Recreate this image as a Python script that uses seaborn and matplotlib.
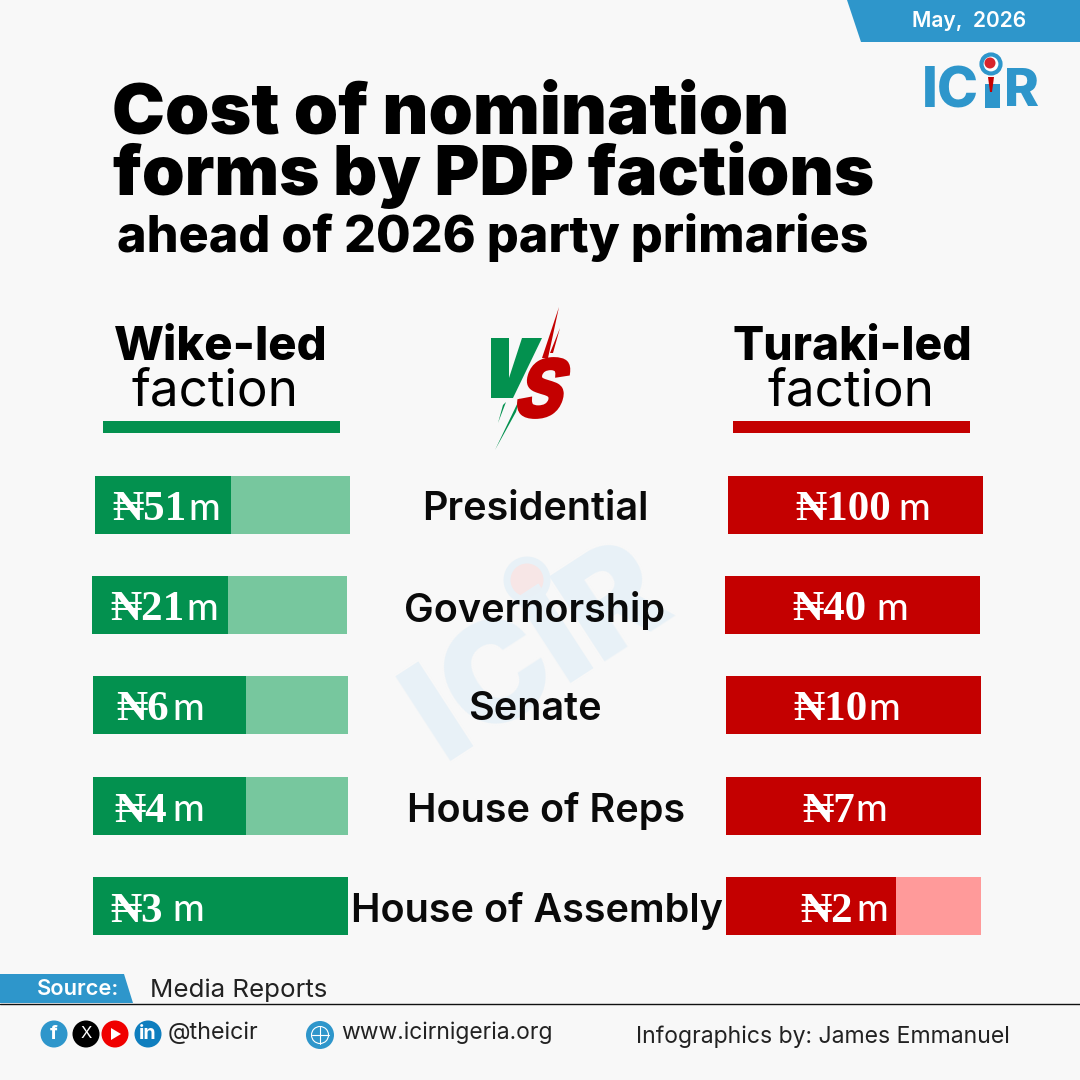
import matplotlib
matplotlib.use("Agg")
import matplotlib.pyplot as plt
import seaborn as sns
from matplotlib.font_manager import FontProperties
from matplotlib.patches import Circle, PathPatch, Polygon, Rectangle
from matplotlib.textpath import TextPath
from matplotlib.transforms import Affine2D

# values in million naira
offices = ["Presidential", "Governorship", "Senate", "House of Reps", "House of Assembly"]
wike_cost = [51, 21, 6, 4, 3]
turaki_cost = [100, 40, 10, 7, 2]
# filled part of each bar
wike_fill = [0.533, 0.533, 0.60, 0.60, 1.0]
turaki_fill = [1.0, 1.0, 1.0, 1.0, 0.667]

BG = "#F8F8F8"
BLUE = "#2E96CB"
GREEN = "#03914F"
GREEN_LIGHT = "#77C79E"
RED = "#C40000"
RED_LIGHT = "#FF9A9A"

# layout in reference pixels
row_top = [476, 576, 676, 777, 877]
bar_h = 58
bar_w = 255
wike_left = [95, 92, 93, 93, 93]
turaki_left = [728, 725, 726, 726, 726]
wike_naira_x = [112, 110, 116, 114, 110]
wike_m_x = [188, 186, 172, 172, 172]
turaki_naira_x = [795, 792, 793, 802, 800]
turaki_m_x = [898, 876, 868, 855, 856]
office_x = [535, 535, 535, 546, 537]

sns.set_theme(style="white")
plt.rcParams["font.family"] = ["Inter", "DejaVu Sans"]

fig = plt.figure(figsize=(10.8, 10.8), dpi=100, facecolor=BG)


def fit(t, width):
    # scale font so the text spans the target pixel width
    fig.canvas.draw()
    w = t.get_window_extent().width
    t.set_fontsize(t.get_fontsize() * width / w)
    return t


def cost_bar(left, top, fill, dark, light):
    ax = fig.add_axes([left / 1080, 1 - (top + bar_h) / 1080, bar_w / 1080, bar_h / 1080])
    sns.barplot(x=[1], y=[""], color=light, saturation=1, width=1, linewidth=0, ax=ax, orient="h")
    sns.barplot(x=[fill], y=[""], color=dark, saturation=1, width=1, linewidth=0, ax=ax, orient="h")
    ax.set_xlim(0, 1)
    ax.set_ylim(0.5, -0.5)
    ax.axis("off")


# watermark goes on a layer under the bars
bg = fig.add_axes([0, 0, 1, 1], zorder=0)
bg.set_xlim(0, 1080)
bg.set_ylim(1080, 0)
bg.axis("off")
bg.text(540, 655, "ICIR", color="#E8F1F7", fontsize=100, fontweight="black",
        rotation=33, ha="center", va="center", rotation_mode="anchor")
bg.add_patch(Circle((527, 580), 20, fc="#F7E6E6", ec="#E8F1F7", lw=5))

for i in range(len(offices)):
    cost_bar(wike_left[i], row_top[i], wike_fill[i], GREEN, GREEN_LIGHT)
    cost_bar(turaki_left[i], row_top[i], turaki_fill[i], RED, RED_LIGHT)

ov = fig.add_axes([0, 0, 1, 1], zorder=5)
ov.set_xlim(0, 1080)
ov.set_ylim(1080, 0)
ov.axis("off")
ov.patch.set_alpha(0)

# bar labels and office names
for i, office in enumerate(offices):
    mid = row_top[i] + bar_h / 2
    for cost, nx, mx in [(wike_cost[i], wike_naira_x[i], wike_m_x[i]),
                         (turaki_cost[i], turaki_naira_x[i], turaki_m_x[i])]:
        ov.text(nx, mid + 1, f"₦{cost}", color="white", fontsize=31, fontweight="bold",
                family=["Liberation Serif", "DejaVu Serif"], ha="left", va="center_baseline")
        ov.text(mx, mid + 1, "m", color="white", fontsize=27.5, fontweight="medium",
                family="Lato", ha="left", va="center_baseline")
    ov.text(office_x[i], mid + 1, office, color="#0A0A0A", fontsize=28.5, fontweight="semibold",
            ha="center", va="center_baseline")

# title block
fit(ov.text(112, 115, "Cost of nomination", color="black", fontsize=50, fontweight="black",
            ha="left", va="center"), 678)
fit(ov.text(113, 175, "forms by PDP factions", color="black", fontsize=50, fontweight="black",
            ha="left", va="center"), 761)
fit(ov.text(117, 237, "ahead of 2026 party primaries", color="black", fontsize=33, fontweight="heavy",
            ha="left", va="center"), 751)

# faction heads
fit(ov.text(221, 348, "Wike-led", color="black", fontsize=33, fontweight="heavy",
            ha="center", va="center"), 214)
fit(ov.text(215, 392, "faction", color="black", fontsize=33, fontweight="normal",
            ha="center", va="center"), 167)
ov.add_patch(Rectangle((103, 421), 237, 12, fc=GREEN, lw=0))
fit(ov.text(852, 348, "Turaki-led", color="black", fontsize=33, fontweight="heavy",
            ha="center", va="center"), 240)
fit(ov.text(851, 392, "faction", color="black", fontsize=33, fontweight="normal",
            ha="center", va="center"), 167)
ov.add_patch(Rectangle((733, 421), 237, 12, fc=RED, lw=0))

# VS badge
ov.add_patch(Polygon([(491, 338), (509, 338), (509, 378), (522, 338), (542, 338),
                      (513, 398), (491, 398)], fc=GREEN, lw=0))
ov.add_patch(Polygon([(520, 398), (495, 450), (516, 412)], fc=GREEN, lw=0))
ov.add_patch(Polygon([(506, 402), (498, 423), (503, 405)], fc=GREEN, lw=0))
ov.add_patch(Polygon([(559, 307), (542, 358), (548, 358)], fc=RED, lw=0))
ov.add_patch(Polygon([(560, 328), (550, 353), (553, 353)], fc=RED, lw=0))
s_path = TextPath((0, 0), "S", size=100, prop=FontProperties(family="Liberation Sans", weight="bold"))
s_box = s_path.get_extents()
s_shape = (Affine2D().translate(-s_box.x0 - s_box.width / 2, -s_box.y0 - s_box.height / 2)
           .scale(40 / s_box.width, -57 / s_box.height)
           .skew_deg(-18, 0).translate(544, 388))
ov.add_patch(PathPatch(s_path, fc=RED, ec=RED, lw=3.5, transform=s_shape + ov.transData))

# date tab and logo
ov.add_patch(Polygon([(847, 0), (861, 42), (1080, 42), (1080, 0)], fc=BLUE, lw=0))
fit(ov.text(969.5, 21, "May,  2026", color="white", fontsize=15.5, fontweight="semibold",
            ha="center", va="center"), 115)
fit(ov.text(922, 92, "IC", color=BLUE, fontsize=50, fontweight="heavy", ha="left", va="center"), 57)
fit(ov.text(1004, 92, "R", color=BLUE, fontsize=50, fontweight="heavy", ha="left", va="center"), 35)
ov.add_patch(Rectangle((985, 84), 15, 24, fc=BLUE, lw=0))
ov.add_patch(Polygon([(988, 77), (994, 77), (992, 92), (990, 92)], fc=RED, lw=0))
ov.add_patch(Circle((991, 64), 9.5, fc="white", ec=BLUE, lw=3))
ov.add_patch(Circle((990, 63), 5.5, fc="#D8252C", lw=0))

# source strip and footer
ov.add_patch(Polygon([(0, 974), (124, 974), (133, 1003), (0, 1003)], fc=BLUE, lw=0))
fit(ov.text(78.5, 989, "Source:", color="white", fontsize=15, fontweight="semibold",
            ha="center", va="center"), 82)
fit(ov.text(150, 990, "Media Reports", color="#222222", fontsize=16.5, ha="left", va="center"), 177)
ov.plot([0, 1080], [1003.5, 1003.5], color="#111111", lw=1)

ov.add_patch(Circle((54, 1034), 13.5, fc=BLUE, lw=0))
ov.text(54, 1034, "f", color="white", fontsize=14, fontweight="bold", ha="center", va="center")
ov.add_patch(Circle((86, 1034), 13.5, fc="black", lw=0))
ov.text(86, 1034, "X", color="white", fontsize=12, ha="center", va="center")
ov.add_patch(Circle((115, 1034), 13.5, fc="#F00000", lw=0))
ov.add_patch(Polygon([(111, 1028), (121, 1034), (111, 1040)], fc="white", lw=0))
ov.add_patch(Circle((148, 1034), 13.5, fc="#0F7EBE", lw=0))
ov.text(148, 1034, "in", color="white", fontsize=14, fontweight="bold", ha="center", va="center")
fit(ov.text(168, 1033, "@theicir", color="#222222", fontsize=15, ha="left", va="center"), 91)

ov.add_patch(Circle((320, 1035), 14, fc=BLUE, lw=0))
ov.add_patch(Circle((320, 1035), 8.5, fc="none", ec="white", lw=0.8))
ov.plot([311.5, 328.5], [1035, 1035], color="white", lw=0.8)
ov.plot([320, 320], [1026.5, 1043.5], color="white", lw=0.8)
fit(ov.text(341, 1033, "www.icirnigeria.org", color="#222222", fontsize=15, ha="left", va="center"), 212)
fit(ov.text(636, 1037, "Infographics by: James Emmanuel", color="#222222", fontsize=15,
            ha="left", va="center"), 375)

fig.savefig("out.png", dpi=100, facecolor=BG)
